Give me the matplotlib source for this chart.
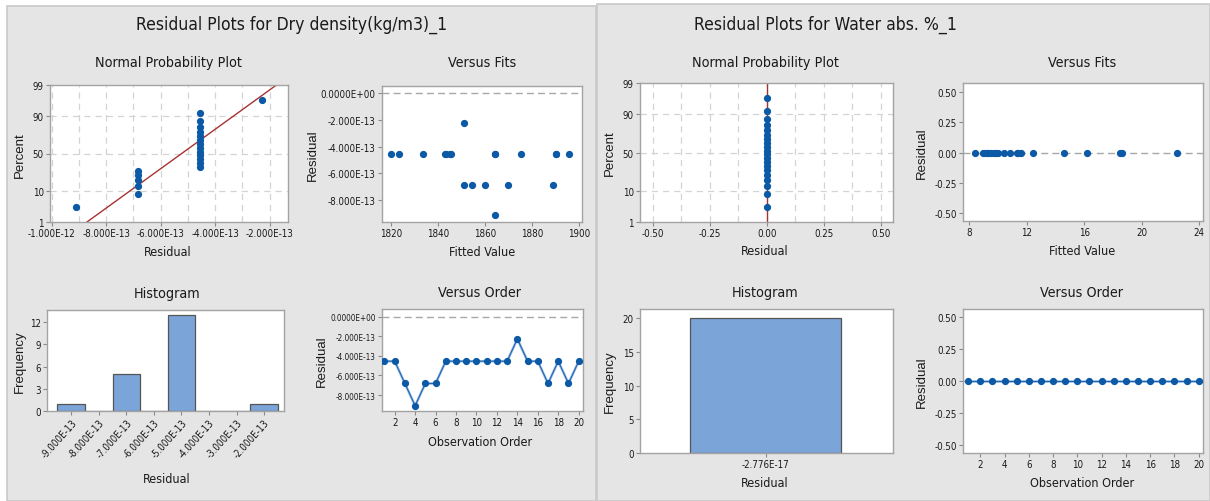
import os
import matplotlib
matplotlib.use("Agg")
import matplotlib.pyplot as plt
from matplotlib import font_manager
from matplotlib.font_manager import FontProperties
from matplotlib.patches import Rectangle
from matplotlib.ticker import FuncFormatter
from statistics import NormalDist
import numpy as np

# ---------------- data ----------------
obs_order = list(range(1, 21))
dry_residuals = [-4.547e-13, -4.547e-13, -6.821e-13, -9.095e-13, -6.821e-13,
                 -6.821e-13, -4.547e-13, -4.547e-13, -4.547e-13, -4.547e-13,
                 -4.547e-13, -4.547e-13, -4.547e-13, -2.274e-13, -4.547e-13,
                 -4.547e-13, -6.821e-13, -4.547e-13, -6.821e-13, -4.547e-13]
dry_fits = [1820.0, 1823.1, 1851.1, 1864.4, 1854.3, 1860.0, 1833.3, 1843.1,
            1845.3, 1864.4, 1875.3, 1890.3, 1895.9, 1851.1, 1843.5, 1845.0,
            1870.0, 1864.2, 1888.9, 1890.5]
dry_hist_centers = [-9e-13, -8e-13, -7e-13, -6e-13, -5e-13, -4e-13, -3e-13, -2e-13]
dry_hist_counts = [1, 0, 5, 0, 13, 0, 0, 1]

water_residuals = [-2.776e-17, -2.776e-17, -2.776e-17, -2.776e-17, -2.776e-17,
                   -2.776e-17, -2.776e-17, -2.776e-17, -2.776e-17, -2.776e-17,
                   -2.776e-17, -2.776e-17, -2.776e-17, -2.776e-17, -2.776e-17,
                   -2.776e-17, -2.776e-17, -2.776e-17, -2.776e-17, -2.776e-17]
water_fits = [8.37, 8.95, 9.1, 9.2, 9.3, 9.5, 9.7, 9.85, 10.0, 10.4, 10.8, 11.3,
              11.4, 11.6, 12.45, 14.6, 16.2, 18.5, 18.65, 22.45]
water_hist_centers = [-2.776e-17]
water_hist_counts = [20]

titles = ["Residual Plots for Dry density(kg/m3)_1", "Residual Plots for Water abs. %_1"]
prob_ticks = [1, 10, 50, 90, 99]

# ---------------- fonts ----------------
def find_condensed(weights):
    best, best_score = None, -1
    for f in font_manager.fontManager.ttflist:
        base = os.path.basename(f.fname).lower()
        nm = f.name.lower()
        tag = base + " " + nm
        if not ("narrow" in tag or "condensed" in tag or str(f.stretch) in ("condensed", "semi-condensed")):
            continue
        if f.style != "normal" or "italic" in base or "oblique" in base:
            continue
        if "serif" in base and "sans" not in base:
            continue
        if "mono" in tag:
            continue
        wkeys = ("bold", "light", "thin", "black", "medium", "semibold", "extra")
        present = [k for k in wkeys if k in base.replace("semibold", "semi_b_").replace("extrabold", "x")]
        if weights == "regular":
            if any(k in base for k in wkeys):
                continue
        else:
            if not any(w in base for w in weights):
                continue
            if "extra" in base or "semicondensed" in base and False:
                continue
        score = 1
        if "liberation" in tag:
            score = 5
        elif "noto" in tag and "sans" in tag:
            score = 4
        elif "open" in tag:
            score = 3
        elif "dejavu" in tag and "sans" in tag:
            score = 3
        elif "roboto" in tag:
            score = 3
        if "semicondensed" in base or "semi-condensed" in tag:
            score -= 1
        if "extra" in base or "ultra" in base:
            score -= 2
        if score > best_score:
            best, best_score = f.fname, score
    return best

cond = find_condensed("regular")
cond_semi = None
if cond:
    d = os.path.dirname(cond)
    stem = os.path.basename(cond).lower().split("-")[0].split("_")[0]
    for f in font_manager.fontManager.ttflist:
        b = os.path.basename(f.fname).lower()
        if os.path.dirname(f.fname) == d and ("semibold" in b or "medium" in b) and "italic" not in b \
                and "condensed" in b and "semicondensed" not in b and "extra" not in b:
            if cond_semi is None or "medium" in b:
                cond_semi = f.fname

if cond:
    def HF(size, strong=False):
        fn = cond_semi if (strong and cond_semi) else cond
        return FontProperties(fname=fn, size=size)
else:
    def HF(size, strong=False):
        return FontProperties(family="Liberation Sans", size=size * 0.85)


def VF(size):
    return FontProperties(family="Liberation Sans", size=size)


W, H = 1210, 502
fig = plt.figure(figsize=(W / 100, H / 100), dpi=100, facecolor="white")

BG = "#e5e5e5"
PANEL_EDGE = "#c9c9c9"
BLUE = "#0c59a6"
FRAME = "#a3a3a3"
GRID = "#d4d4d4"
BAR = "#7ba5d8"
TXT = "#1a1a1a"

bg = fig.add_axes([0, 0, 1, 1], zorder=-10)
bg.set_xlim(0, W)
bg.set_ylim(H, 0)
bg.axis("off")
bg.add_patch(Rectangle((7, 7), 596 - 7, H - 7, facecolor=BG, edgecolor=PANEL_EDGE, lw=1.2))
bg.add_patch(Rectangle((597, 5), W - 597, H - 5, facecolor=BG, edgecolor=PANEL_EDGE, lw=1.2))


def ax_at(l, t, r, b):
    return fig.add_axes([l / W, 1 - b / H, (r - l) / W, (b - t) / H])


def ftext(x, y, s, size, rot=0, vertical=False, strong=True):
    fp = VF(size) if vertical else HF(size, strong)
    fig.text(x / W, 1 - y / H, s, ha="center", va="center", rotation=rot,
             color=TXT, fontproperties=fp)


def style(ax):
    ax.set_facecolor("white")
    for sp in ax.spines.values():
        sp.set_color(FRAME)
        sp.set_linewidth(1.0)
    ax.tick_params(direction="out", length=3, width=0.8, color="#8a8a8a",
                   labelcolor=TXT, pad=1.5)


def sci(v, pos=None):
    if v == 0:
        return "0.0000E+00"
    return f"{v:.3E}"


def dec(v, pos=None):
    return "0.00" if abs(v) < 1e-9 else f"{v:.2f}"


nd = NormalDist()


def prob_plot(ax, res, xlim, xmajor, xminor, xfmt):
    style(ax)
    n = len(res)
    srt = np.sort(np.array(res))
    pct = [(i + 1 - 0.3) / (n + 0.4) for i in range(n)]
    z = [nd.inv_cdf(p) for p in pct]
    zlo, zhi = nd.inv_cdf(0.01), nd.inv_cdf(0.99)
    ax.set_xlim(*xlim)
    ax.set_ylim(zlo, zhi)
    for gx in xminor:
        ax.axvline(gx, color=GRID, lw=0.9, ls=(0, (5, 4)), zorder=0)
    for p in prob_ticks[1:-1]:
        ax.axhline(nd.inv_cdf(p / 100), color=GRID, lw=0.9, ls=(0, (5, 4)), zorder=0)
    mu = float(np.mean(res))
    sd = float(np.std(res, ddof=1))
    if sd > 0:
        ax.plot([mu + sd * zlo, mu + sd * zhi], [zlo, zhi], color="#a83232", lw=1.0, zorder=2)
    else:
        ax.plot([mu, mu], [zlo, zhi], color="#c86a6a", lw=1.8, zorder=2)
    ax.plot(srt, z, "o", color=BLUE, ms=4.2, zorder=3)
    ax.set_yticks([nd.inv_cdf(p / 100) for p in prob_ticks])
    ax.set_yticklabels([str(p) for p in prob_ticks])
    ax.set_xticks(xmajor)
    ax.xaxis.set_major_formatter(FuncFormatter(xfmt))


TITLE_FS = 12.6
SUB_FS = 10.3
XL_FS = 9.0
TICK_FS = 7.0
YL_FS = 9.5

# ---------------- LEFT PANEL ----------------
ftext(292, 25, titles[0], TITLE_FS)

ax = ax_at(50, 86, 288, 223)
prob_plot(ax, dry_residuals, (-1.006e-12, -1.33e-13),
          [-1e-12, -8e-13, -6e-13, -4e-13, -2e-13],
          [-1e-12, -9e-13, -8e-13, -7e-13, -6e-13, -5e-13, -4e-13, -3e-13, -2e-13],
          lambda v, p: f"{v:.3E}")
ftext(168, 63, "Normal Probability Plot", SUB_FS)
ftext(168, 253, "Residual", XL_FS)
ftext(20, 155, "Percent", YL_FS, rot=90, vertical=True)

ax = ax_at(382, 87, 582, 223)
style(ax)
ax.axhline(0, color="#a8a8a8", lw=1.0, ls=(0, (5, 3)), zorder=1)
ax.plot(dry_fits, dry_residuals, "o", color=BLUE, ms=4.2, zorder=3)
ax.set_xlim(1816, 1901.4)
ax.set_ylim(-9.6e-13, 0.49e-13)
ax.set_xticks([1820, 1840, 1860, 1880, 1900])
ax.set_yticks([0, -2e-13, -4e-13, -6e-13, -8e-13])
ax.yaxis.set_major_formatter(FuncFormatter(sci))
ax.yaxis.get_offset_text().set_visible(False)
ftext(482, 63, "Versus Fits", SUB_FS)
ftext(482, 253, "Fitted Value", XL_FS)
ftext(313, 155, "Residual", YL_FS, rot=90, vertical=True)

ax_h1 = ax_at(47, 311, 284, 412)
ax = ax_h1
style(ax)
ax.bar(dry_hist_centers, dry_hist_counts, width=1e-13, color=BAR, edgecolor="#555555", lw=0.9, zorder=2)
ax.set_xlim(-9.88e-13, -1.28e-13)
ax.set_ylim(0, 13.66)
ax.set_yticks([0, 3, 6, 9, 12])
ax.set_xticks(dry_hist_centers)
ax.set_xticklabels([f"{v:.3E}" for v in dry_hist_centers], rotation=48, ha="right",
                   rotation_mode="anchor")
ax.xaxis.get_offset_text().set_visible(False)
ftext(167, 294, "Histogram", SUB_FS)
ftext(167, 480, "Residual", XL_FS)
ftext(20, 362, "Frequency", YL_FS, rot=90, vertical=True)

ax_vo1 = ax_at(382, 310, 583, 412)
ax = ax_vo1
style(ax)
ax.axhline(0, color="#a8a8a8", lw=1.0, ls=(0, (5, 3)), zorder=1)
ax.plot(obs_order, dry_residuals, "-", color="#8db3e2", lw=1.8, zorder=2)
ax.plot(obs_order, dry_residuals, "-o", color=BLUE, lw=0.6, ms=4.2, zorder=3)
ax.set_xlim(0.76, 20.42)
ax.set_ylim(-9.63e-13, 0.78e-13)
ax.set_xticks(list(range(2, 21, 2)))
ax.set_yticks([0, -2e-13, -4e-13, -6e-13, -8e-13])
ax.yaxis.set_major_formatter(FuncFormatter(sci))
ax.yaxis.get_offset_text().set_visible(False)
ftext(480, 293, "Versus Order", SUB_FS)
ftext(480, 443, "Observation Order", XL_FS)
ftext(322, 361, "Residual", YL_FS, rot=90, vertical=True)

# ---------------- RIGHT PANEL ----------------
ftext(826, 25, titles[1], TITLE_FS)

ax = ax_at(640, 84, 893, 223)
prob_plot(ax, water_residuals, (-0.555, 0.553),
          [-0.5, -0.25, 0, 0.25, 0.5],
          [-0.5, -0.375, -0.25, -0.125, 0, 0.125, 0.25, 0.375, 0.5],
          dec)
ftext(765, 63, "Normal Probability Plot", SUB_FS)
ftext(765, 252, "Residual", XL_FS)
ftext(610, 153, "Percent", YL_FS, rot=90, vertical=True)

ax = ax_at(963, 84, 1203, 222)
style(ax)
ax.axhline(0, color="#a8a8a8", lw=1.0, ls=(0, (5, 3)), zorder=1)
ax.plot(water_fits, water_residuals, "o", color=BLUE, ms=4.2, zorder=3)
ax.set_xlim(7.56, 24.26)
ax.set_ylim(-0.563, 0.574)
ax.set_xticks([8, 12, 16, 20, 24])
ax.set_yticks([0.5, 0.25, 0, -0.25, -0.5])
ax.yaxis.set_major_formatter(FuncFormatter(dec))
ftext(1082, 63, "Versus Fits", SUB_FS)
ftext(1082, 252, "Fitted Value", XL_FS)
ftext(922, 153, "Residual", YL_FS, rot=90, vertical=True)

ax = ax_at(640, 310, 893, 454)
style(ax)
pos = list(range(len(water_hist_centers)))
ax.bar(pos, water_hist_counts, width=1.0, color=BAR, edgecolor="#555555", lw=0.9, zorder=2)
ax.set_xlim(-0.834, 0.843)
ax.set_ylim(0, 21.4)
ax.set_yticks([0, 5, 10, 15, 20])
ax.set_xticks(pos)
ax.set_xticklabels([f"{v:.3E}" for v in water_hist_centers])
ftext(765, 293, "Histogram", SUB_FS)
ftext(765, 484, "Residual", XL_FS)
ftext(610, 382, "Frequency", YL_FS, rot=90, vertical=True)

ax = ax_at(963, 310, 1203, 454)
style(ax)
ax.axhline(0, color="#a8a8a8", lw=1.0, ls=(0, (5, 3)), zorder=1)
ax.plot(obs_order, water_residuals, "-", color="#8db3e2", lw=1.8, zorder=2)
ax.plot(obs_order, water_residuals, "-o", color=BLUE, lw=0.6, ms=4.2, zorder=3)
ax.set_xlim(0.57, 20.36)
ax.set_ylim(-0.565, 0.56)
ax.set_xticks(list(range(2, 21, 2)))
ax.set_yticks([0.5, 0.25, 0, -0.25, -0.5])
ax.yaxis.set_major_formatter(FuncFormatter(dec))
ftext(1082, 293, "Versus Order", SUB_FS)
ftext(1082, 484, "Observation Order", XL_FS)
ftext(922, 382, "Residual", YL_FS, rot=90, vertical=True)

# tick label fonts
fig.canvas.draw()
for a in fig.axes:
    if a is bg:
        continue
    for lbl in a.get_xticklabels() + a.get_yticklabels():
        lbl.set_fontproperties(HF(TICK_FS, True))
for lbl in ax_vo1.get_yticklabels():
    lbl.set_fontproperties(HF(5.9, True))

fig.savefig("out.png", dpi=100, facecolor="white")
